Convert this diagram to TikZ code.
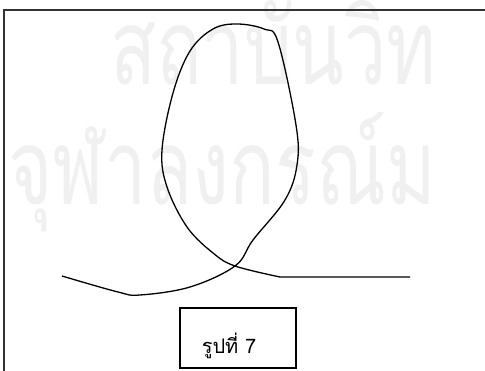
\documentclass[tikz,border=0pt]{standalone}
\usepackage{fontspec}
\newfontfamily\thaifont[Script=Thai]{Loma}
\usetikzlibrary{positioning}
\tikzset{
  frameline/.style={black!80, line width=1.3pt},
  loopcurve/.style={black, line width=1.3pt, line join=round},
  capbox/.style={draw, line width=1.2pt, minimum width=116pt, minimum height=60pt, inner sep=0pt},
  captext/.style={font=\thaifont\fontsize{20}{24}\selectfont, inner sep=0pt},
  watermark/.style={text=black!6, font=\thaifont\fontsize{105}{120}\selectfont, xscale=0.72, inner sep=0pt, anchor=base west}
}
\begin{document}
\begin{tikzpicture}[x=1pt,y=-1pt]
\useasboundingbox (0,0) rectangle (485,371);
% faint scan watermark
\node[watermark] (wmtop) at (110,85) {สถาบันวิท};
\node[watermark] (wmbot) at (8,205) {จุฬาลงกรณ์ม};
% frame, top and left edges only
\coordinate (fcorner) at (4,10);
\coordinate (ftop) at (485,10);
\coordinate (fleft) at (4,371);
\draw[frameline] (ftop) -- (fcorner) -- (fleft);
% the loop
\coordinate (cstart) at (62,276);
\coordinate (cross) at (235,266);
\coordinate (cflat) at (280,277);
\coordinate (cend) at (410,277);
\draw[loopcurve] plot[smooth, tension=0.6] coordinates {
  (cstart) (118,292) (140,295) (190,287) (cross) (253,240)
  (285,200) (297,165) (296,125) (278,42) (264,29) (237,24) (213,29)
  (190,51) (173,93) (162,150) (167,187) (187,227) (213,253) (cross)
  (cflat)} -- (cend);
% caption
\node[capbox] (capframe) at (238,338) {};
\node[captext] (caption) at (229,346) {รูปที่ 7};
\end{tikzpicture}
\end{document}
